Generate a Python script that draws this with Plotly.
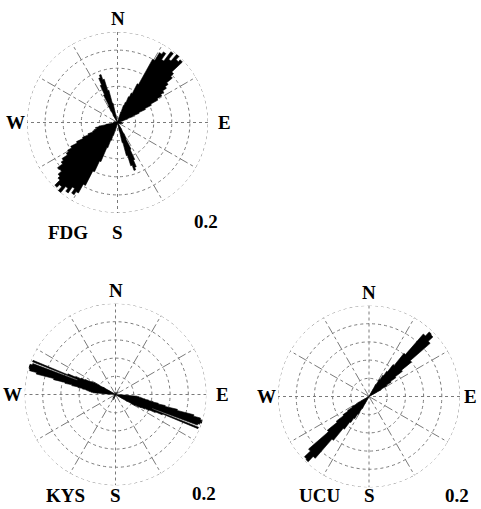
import plotly.graph_objects as go

W, H = 481, 509

# ---- rose data: bin centre (deg, clockwise from N) and frequency ----
FDG_DIR = [16, 18, 20, 22, 24, 26, 28, 30, 32, 34, 36, 38, 40, 42, 44, 46, 48, 50, 52, 54,
           56, 58, 60, 62, 64, 66, 68, 70, 72,
           86, 92, 100, 110,
           150, 152, 154, 156, 158, 160, 162, 164, 166, 168,
           194, 196, 198, 200, 202, 204, 206, 208, 210, 212, 214, 216, 218, 220, 222, 224,
           226, 228, 230, 232, 234, 236, 238, 240, 242, 244, 246, 248, 250, 252, 254, 256,
           258, 260, 262, 270, 280,
           330, 332, 334, 336, 338, 340, 342, 344, 346, 348]
FDG_VAL = [0.012, 0.024, 0.040, 0.048, 0.062, 0.072, 0.096, 0.160, 0.180, 0.186, 0.170, 0.196,
           0.180, 0.200, 0.190, 0.196, 0.164, 0.156, 0.140, 0.132, 0.122, 0.114, 0.102, 0.084,
           0.068, 0.052, 0.038, 0.024, 0.014,
           0.008, 0.010, 0.012, 0.008,
           0.018, 0.040, 0.066, 0.090, 0.106, 0.112, 0.100, 0.076, 0.046, 0.020,
           0.012, 0.020, 0.030, 0.042, 0.060, 0.094, 0.120, 0.156, 0.178, 0.186, 0.174, 0.190,
           0.182, 0.200, 0.188, 0.196, 0.180, 0.174, 0.164, 0.166, 0.152, 0.146, 0.132, 0.126,
           0.116, 0.100, 0.084, 0.070, 0.058, 0.054, 0.048, 0.050, 0.042, 0.026, 0.014, 0.010,
           0.008,
           0.020, 0.042, 0.068, 0.090, 0.106, 0.112, 0.100, 0.074, 0.044, 0.018]

KYS_DIR = [40,
           94, 95, 96, 97, 98, 99, 100, 101, 102, 103, 104, 105, 106, 107, 108, 109, 110, 111,
           112, 113, 114, 115, 116, 117, 118, 119, 120,
           200, 215,
           274, 275, 276, 277, 278, 279, 280, 281, 282, 283, 284, 285, 286, 287, 288, 289, 290,
           291, 292, 293, 294, 295, 296, 297, 298, 299, 300,
           350]
KYS_VAL = [0.008,
           0.030, 0.048, 0.052, 0.056, 0.060, 0.066, 0.074, 0.084, 0.096, 0.112, 0.140, 0.178,
           0.194, 0.198, 0.200, 0.196, 0.192, 0.086, 0.196, 0.112, 0.096, 0.082, 0.072, 0.064,
           0.058, 0.050, 0.030,
           0.012, 0.010,
           0.030, 0.050, 0.054, 0.058, 0.062, 0.066, 0.074, 0.084, 0.098, 0.114, 0.140, 0.180,
           0.196, 0.198, 0.200, 0.200, 0.194, 0.090, 0.196, 0.114, 0.096, 0.084, 0.074, 0.066,
           0.060, 0.054, 0.032,
           0.006]

UCU_DIR = [30, 32, 34, 36, 38, 40, 42, 44, 46, 48, 50, 52, 54, 56, 58, 60,
           210, 212, 214, 216, 218, 220, 222, 224, 226, 228, 230, 232, 234, 236, 238, 240]
UCU_VAL = [0.030, 0.044, 0.056, 0.068, 0.088, 0.122, 0.182, 0.194, 0.192, 0.178, 0.120, 0.092,
           0.072, 0.058, 0.046, 0.030,
           0.030, 0.046, 0.058, 0.070, 0.090, 0.124, 0.180, 0.196, 0.194, 0.176, 0.118, 0.090,
           0.070, 0.056, 0.044, 0.028]

RINGS = [0.04, 0.08, 0.12, 0.16, 0.2]
SPOKES = [30, 60, 120, 150, 210, 240, 300, 330]
RMAX = 0.2
SCALE_LABEL = "0.2"

# station name, data, bin width, centre (px), radius (px)
panels = [
    ("FDG", FDG_DIR, FDG_VAL, 2, (117.5, 122.5), 90.5),
    ("KYS", KYS_DIR, KYS_VAL, 1, (115.5, 394.5), 91.0),
    ("UCU", UCU_DIR, UCU_VAL, 2, (369.0, 396.5), 91.0),
]

GRID = "#7a7a7a"
FONT = dict(family="Liberation Serif, Times New Roman, serif", size=19, color="black")


def rose_outline(dirs, vals, bw):
    """Outline of the rose: each contiguous run of bins becomes one wedge from the centre."""
    rr, tt = [], []
    prev_end = None
    for d, v in sorted(zip(dirs, vals)):
        a0, a1 = d - bw / 2, d + bw / 2
        if prev_end is None or abs(a0 - prev_end) > 1e-9:
            if prev_end is not None:
                rr.append(0)
                tt.append(prev_end)
            rr.append(0)
            tt.append(a0)
        rr += [v, v]
        tt += [a0, a1]
        prev_end = a1
    rr.append(0)
    tt.append(prev_end)
    return rr, tt


def px(x, y):
    return x / W, 1 - y / H


fig = go.Figure()
layout = {}
annotations = []

for i, (name, dirs, vals, bw, (cx, cy), R) in enumerate(panels):
    key = "polar" if i == 0 else f"polar{i + 1}"

    # dotted N-S and E-W diameters and the outer ring
    for th in ([0, 0, 180], [90, 90, 270]):
        fig.add_trace(go.Scatterpolar(
            r=[RMAX, 0, RMAX], theta=th, mode="lines",
            line=dict(color=GRID, width=1, dash="dot"), subplot=key,
            showlegend=False, hoverinfo="skip"))
    fig.add_trace(go.Scatterpolar(
        r=[RMAX] * 361, theta=list(range(361)), mode="lines",
        line=dict(color=GRID, width=1, dash="dot"), subplot=key,
        showlegend=False, hoverinfo="skip"))

    rr, tt = rose_outline(dirs, vals, bw)
    fig.add_trace(go.Scatterpolar(
        r=rr, theta=tt, mode="lines", fill="toself", fillcolor="black",
        line=dict(color="black", width=0.6), subplot=key,
        showlegend=False, hoverinfo="skip"))

    x0, y1 = px(cx - R, cy - R)
    x1, y0 = px(cx + R, cy + R)
    layout[key] = dict(
        domain=dict(x=[x0, x1], y=[y0, y1]),
        bgcolor="white",
        radialaxis=dict(range=[0, RMAX], tickvals=RINGS, showticklabels=False, ticks="",
                        showline=False, gridcolor=GRID, gridwidth=1, griddash="dot"),
        angularaxis=dict(direction="clockwise", rotation=90, tickvals=SPOKES,
                         showticklabels=False, ticks="", showline=False,
                         gridcolor=GRID, gridwidth=1, griddash="dashdot"),
    )

    # compass letters, station name and scale value
    low = min(cy + R + 20, H - 14)
    labels = [
        ("N", cx, cy - R - 13),
        ("S", cx, low),
        ("W", cx - R - 12, cy),
        ("E", min(cx + R + 16, W - 11), cy),
        (name, cx - 50, low),
        (SCALE_LABEL, cx + 88, cy + R + 8),
    ]
    for text, lx, ly in labels:
        ax, ay = px(lx, ly)
        annotations.append(dict(text=f"<b>{text}</b>", x=ax, y=ay, xref="paper", yref="paper",
                                xanchor="center", yanchor="middle", showarrow=False, font=FONT))

fig.update_layout(
    width=W, height=H,
    margin=dict(l=0, r=0, t=0, b=0),
    paper_bgcolor="white",
    annotations=annotations,
    **layout,
)

fig.write_html("out.html")
